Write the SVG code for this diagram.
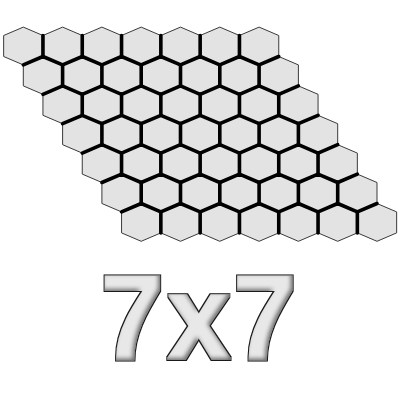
<svg xmlns="http://www.w3.org/2000/svg" xmlns:xlink="http://www.w3.org/1999/xlink" width="400" height="400" viewBox="0 0 400 400">
<style>
.hex{fill:#e3e3e3;stroke:#3a3a3a;stroke-width:1}
.inner{fill:none;stroke:#000;stroke-width:3.6;stroke-linejoin:round;stroke-linecap:round}
.title{font-family:"Liberation Sans",Arial,sans-serif;font-weight:700;font-size:120px;fill:#e6e6e6;text-anchor:middle}
</style>
<defs>
<polygon id="h" points="0,-18.9 19.65,-10.5 19.65,10.5 0,18.9 -19.65,10.5 -19.65,-10.5"/>
<filter id="emb" x="-10%" y="-15%" width="120%" height="130%" color-interpolation-filters="sRGB">
<feMorphology in="SourceAlpha" operator="dilate" radius="0.8" result="A"/>
<feMorphology in="SourceAlpha" operator="dilate" radius="2.4" result="B"/>
<feFlood flood-color="#1a1a1a"/>
<feComposite in2="B" operator="in" result="outl"/>
<feFlood flood-color="#e8e8e8"/>
<feComposite in2="A" operator="in" result="body"/>
<feGaussianBlur in="A" stdDeviation="2" result="ab"/>
<feOffset in="ab" dx="-2.5" dy="-2.5" result="ao"/>
<feComposite in="A" in2="ao" operator="out" result="edge"/>
<feFlood flood-color="#444" flood-opacity="0.75"/>
<feComposite in2="edge" operator="in" result="shade"/>
<feMerge><feMergeNode in="outl"/><feMergeNode in="body"/><feMergeNode in="shade"/></feMerge>
</filter>
</defs>
<rect width="400" height="400" fill="#fff"/>
<g id="hexes">
<g id="hex-0-0"><use xlink:href="#h" class="hex" x="23.3" y="46"/></g>
<g id="hex-0-1"><use xlink:href="#h" class="hex" x="62.6" y="46"/></g>
<g id="hex-0-2"><use xlink:href="#h" class="hex" x="101.9" y="46"/></g>
<g id="hex-0-3"><use xlink:href="#h" class="hex" x="141.2" y="46"/></g>
<g id="hex-0-4"><use xlink:href="#h" class="hex" x="180.5" y="46"/></g>
<g id="hex-0-5"><use xlink:href="#h" class="hex" x="219.8" y="46"/></g>
<g id="hex-0-6"><use xlink:href="#h" class="hex" x="259.1" y="46"/></g>
<g id="hex-1-0"><use xlink:href="#h" class="hex" x="42.95" y="75.4"/></g>
<g id="hex-1-1"><use xlink:href="#h" class="hex" x="82.25" y="75.4"/></g>
<g id="hex-1-2"><use xlink:href="#h" class="hex" x="121.55" y="75.4"/></g>
<g id="hex-1-3"><use xlink:href="#h" class="hex" x="160.85" y="75.4"/></g>
<g id="hex-1-4"><use xlink:href="#h" class="hex" x="200.15" y="75.4"/></g>
<g id="hex-1-5"><use xlink:href="#h" class="hex" x="239.45" y="75.4"/></g>
<g id="hex-1-6"><use xlink:href="#h" class="hex" x="278.75" y="75.4"/></g>
<g id="hex-2-0"><use xlink:href="#h" class="hex" x="62.6" y="104.8"/></g>
<g id="hex-2-1"><use xlink:href="#h" class="hex" x="101.9" y="104.8"/></g>
<g id="hex-2-2"><use xlink:href="#h" class="hex" x="141.2" y="104.8"/></g>
<g id="hex-2-3"><use xlink:href="#h" class="hex" x="180.5" y="104.8"/></g>
<g id="hex-2-4"><use xlink:href="#h" class="hex" x="219.8" y="104.8"/></g>
<g id="hex-2-5"><use xlink:href="#h" class="hex" x="259.1" y="104.8"/></g>
<g id="hex-2-6"><use xlink:href="#h" class="hex" x="298.4" y="104.8"/></g>
<g id="hex-3-0"><use xlink:href="#h" class="hex" x="82.25" y="134.2"/></g>
<g id="hex-3-1"><use xlink:href="#h" class="hex" x="121.55" y="134.2"/></g>
<g id="hex-3-2"><use xlink:href="#h" class="hex" x="160.85" y="134.2"/></g>
<g id="hex-3-3"><use xlink:href="#h" class="hex" x="200.15" y="134.2"/></g>
<g id="hex-3-4"><use xlink:href="#h" class="hex" x="239.45" y="134.2"/></g>
<g id="hex-3-5"><use xlink:href="#h" class="hex" x="278.75" y="134.2"/></g>
<g id="hex-3-6"><use xlink:href="#h" class="hex" x="318.05" y="134.2"/></g>
<g id="hex-4-0"><use xlink:href="#h" class="hex" x="101.9" y="163.6"/></g>
<g id="hex-4-1"><use xlink:href="#h" class="hex" x="141.2" y="163.6"/></g>
<g id="hex-4-2"><use xlink:href="#h" class="hex" x="180.5" y="163.6"/></g>
<g id="hex-4-3"><use xlink:href="#h" class="hex" x="219.8" y="163.6"/></g>
<g id="hex-4-4"><use xlink:href="#h" class="hex" x="259.1" y="163.6"/></g>
<g id="hex-4-5"><use xlink:href="#h" class="hex" x="298.4" y="163.6"/></g>
<g id="hex-4-6"><use xlink:href="#h" class="hex" x="337.7" y="163.6"/></g>
<g id="hex-5-0"><use xlink:href="#h" class="hex" x="121.55" y="193"/></g>
<g id="hex-5-1"><use xlink:href="#h" class="hex" x="160.85" y="193"/></g>
<g id="hex-5-2"><use xlink:href="#h" class="hex" x="200.15" y="193"/></g>
<g id="hex-5-3"><use xlink:href="#h" class="hex" x="239.45" y="193"/></g>
<g id="hex-5-4"><use xlink:href="#h" class="hex" x="278.75" y="193"/></g>
<g id="hex-5-5"><use xlink:href="#h" class="hex" x="318.05" y="193"/></g>
<g id="hex-5-6"><use xlink:href="#h" class="hex" x="357.35" y="193"/></g>
<g id="hex-6-0"><use xlink:href="#h" class="hex" x="141.2" y="222.4"/></g>
<g id="hex-6-1"><use xlink:href="#h" class="hex" x="180.5" y="222.4"/></g>
<g id="hex-6-2"><use xlink:href="#h" class="hex" x="219.8" y="222.4"/></g>
<g id="hex-6-3"><use xlink:href="#h" class="hex" x="259.1" y="222.4"/></g>
<g id="hex-6-4"><use xlink:href="#h" class="hex" x="298.4" y="222.4"/></g>
<g id="hex-6-5"><use xlink:href="#h" class="hex" x="337.7" y="222.4"/></g>
<g id="hex-6-6"><use xlink:href="#h" class="hex" x="377" y="222.4"/></g>
</g>
<g id="shared-edges" class="inner">
<path d="M42.95 35.5v21m39.3 -21v21m39.3 -21v21m39.3 -21v21m39.3 -21v21m39.3 -21v21"/>
<path d="M62.6 64.9v21m39.3 -21v21m39.3 -21v21m39.3 -21v21m39.3 -21v21m39.3 -21v21"/>
<path d="M82.25 94.3v21m39.3 -21v21m39.3 -21v21m39.3 -21v21m39.3 -21v21m39.3 -21v21"/>
<path d="M101.9 123.7v21m39.3 -21v21m39.3 -21v21m39.3 -21v21m39.3 -21v21m39.3 -21v21"/>
<path d="M121.55 153.1v21m39.3 -21v21m39.3 -21v21m39.3 -21v21m39.3 -21v21m39.3 -21v21"/>
<path d="M141.2 182.5v21m39.3 -21v21m39.3 -21v21m39.3 -21v21m39.3 -21v21m39.3 -21v21"/>
<path d="M160.85 211.9v21m39.3 -21v21m39.3 -21v21m39.3 -21v21m39.3 -21v21m39.3 -21v21"/>
<path d="M23.3 64.9l19.65 -8.4l19.65 8.4l19.65 -8.4l19.65 8.4l19.65 -8.4l19.65 8.4l19.65 -8.4l19.65 8.4l19.65 -8.4l19.65 8.4l19.65 -8.4l19.65 8.4l19.65 -8.4"/>
<path d="M42.95 94.3l19.65 -8.4l19.65 8.4l19.65 -8.4l19.65 8.4l19.65 -8.4l19.65 8.4l19.65 -8.4l19.65 8.4l19.65 -8.4l19.65 8.4l19.65 -8.4l19.65 8.4l19.65 -8.4"/>
<path d="M62.6 123.7l19.65 -8.4l19.65 8.4l19.65 -8.4l19.65 8.4l19.65 -8.4l19.65 8.4l19.65 -8.4l19.65 8.4l19.65 -8.4l19.65 8.4l19.65 -8.4l19.65 8.4l19.65 -8.4"/>
<path d="M82.25 153.1l19.65 -8.4l19.65 8.4l19.65 -8.4l19.65 8.4l19.65 -8.4l19.65 8.4l19.65 -8.4l19.65 8.4l19.65 -8.4l19.65 8.4l19.65 -8.4l19.65 8.4l19.65 -8.4"/>
<path d="M101.9 182.5l19.65 -8.4l19.65 8.4l19.65 -8.4l19.65 8.4l19.65 -8.4l19.65 8.4l19.65 -8.4l19.65 8.4l19.65 -8.4l19.65 8.4l19.65 -8.4l19.65 8.4l19.65 -8.4"/>
<path d="M121.55 211.9l19.65 -8.4l19.65 8.4l19.65 -8.4l19.65 8.4l19.65 -8.4l19.65 8.4l19.65 -8.4l19.65 8.4l19.65 -8.4l19.65 8.4l19.65 -8.4l19.65 8.4l19.65 -8.4"/>
</g>
<g id="label" transform="scale(0.95,1)">
<text class="title" font-weight="bold" filter="url(#emb)" y="359.5"><tspan x="139.5">7</tspan><tspan x="209.5">x</tspan><tspan x="278.9">7</tspan></text>
</g>
</svg>
